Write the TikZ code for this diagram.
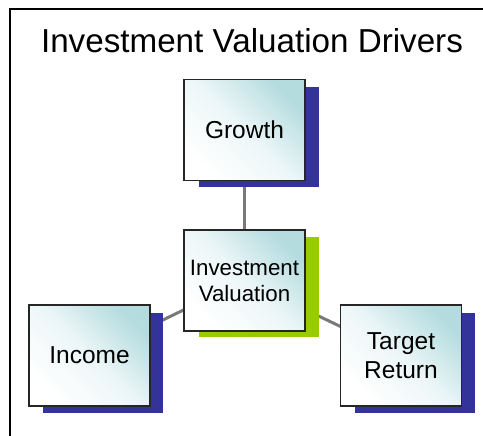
\documentclass[tikz,border=0pt]{standalone}
\usepackage{fontspec}
\setmainfont{Liberation Sans}
\begin{document}
\begin{tikzpicture}[x=1pt,y=-1pt,
  conn/.style={draw=gray!95!black, line width=3pt},
  card/.style={draw=black!85, line width=1.4pt, shading=axis, top color=cardteal, bottom color=white, middle color=cardteal!25, shading angle=-45, minimum width=121pt, minimum height=101pt, inner sep=0pt, align=center, font=\fontsize{24.5}{29}\selectfont},
]
\definecolor{cardteal}{HTML}{B4DCDF}
\definecolor{navyshadow}{HTML}{333399}
\definecolor{limeshadow}{HTML}{99CC00}
\useasboundingbox (0,0) rectangle (483,436);
% frame
\draw[line width=2pt, black] (9.5,440) -- (9.5,9.5) -- (490,9.5);
\node[anchor=base, font=\fontsize{33.2}{38}\selectfont] (title) at (252,53) {Investment Valuation Drivers};
% connectors (behind)
\coordinate (cG) at (244.5,130);
\coordinate (cC) at (244.5,280.5);
\coordinate (cI) at (89.5,355.5);
\coordinate (cT) at (401,355.5);
\draw[conn] (cC) -- (cG);
\draw[conn] (cC) -- (cI);
\draw[conn] (cC) -- (cT);
% shadows
\fill[navyshadow] (199,87) rectangle (319,187);
\fill[limeshadow] (199,237) rectangle (319,337);
\fill[navyshadow] (43,313) rectangle (163,413);
\fill[navyshadow] (355,313) rectangle (475,413);
% cards
\node[card] (growth) at (cG) {Growth};
\node[card, font=\fontsize{22.3}{26}\selectfont] (center) at (cC) {Investment\\Valuation};
\node[card] (income) at (cI) {Income};
\node[card] (target) at (cT) {Target\\Return};
\end{tikzpicture}
\end{document}
